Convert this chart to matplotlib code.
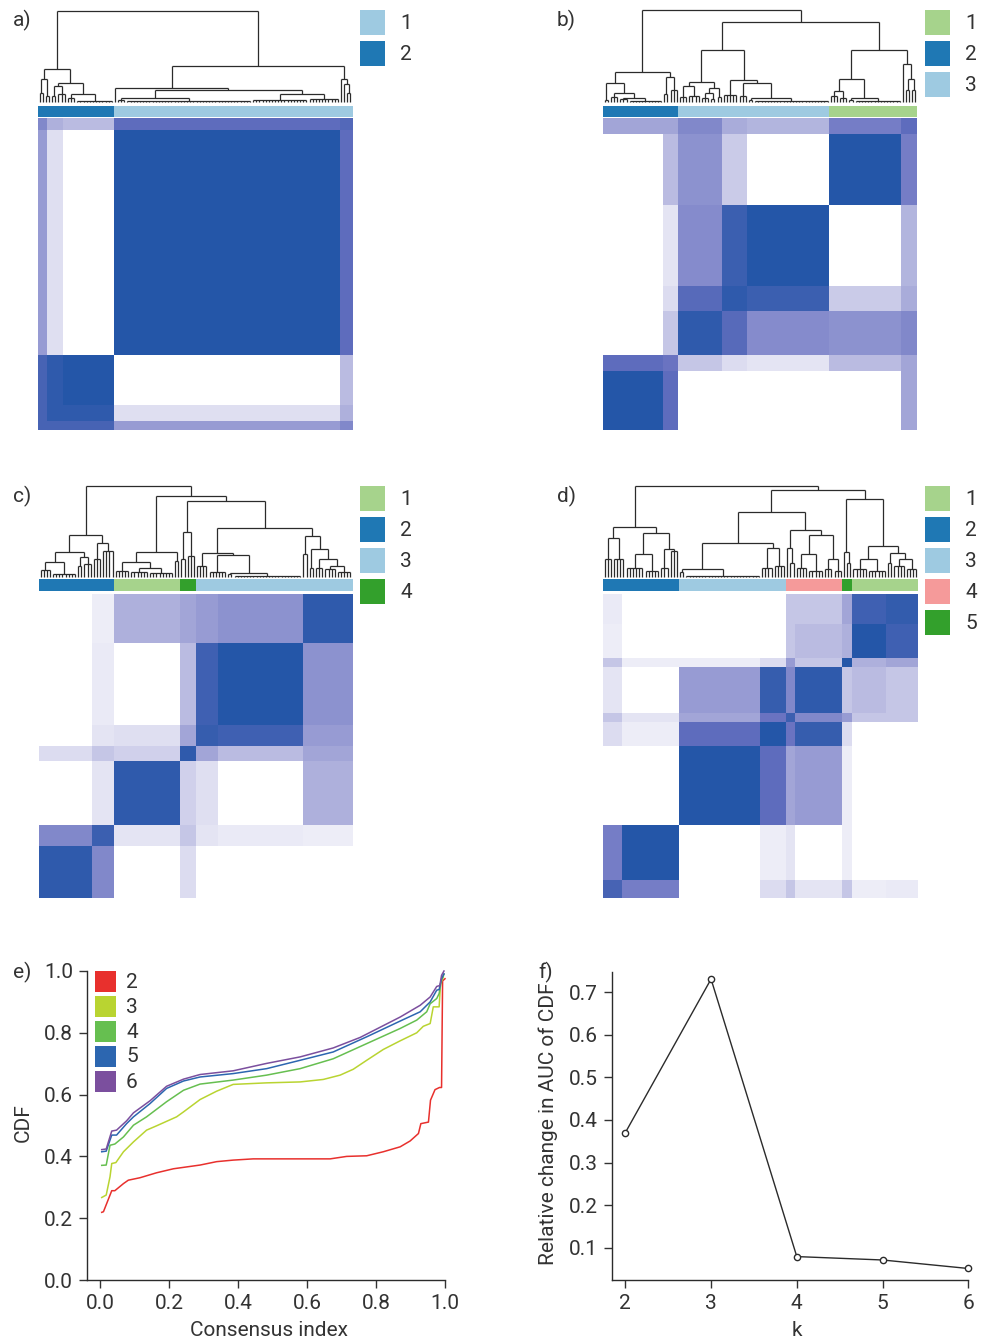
import numpy as np
import matplotlib
matplotlib.use("Agg")
import matplotlib.pyplot as plt
from matplotlib.colors import LinearSegmentedColormap, ListedColormap
from matplotlib.patches import Rectangle

plt.rcParams["font.family"] = ["Roboto", "DejaVu Sans"]
TXT = "#333333"
LINE = "#2b2b2b"

W, H = 988, 1341
N_SAMPLES = 100

# ---------------------------------------------------------------- colours
CLUSTER_COLORS = {
    "lightblue": "#9ecae1",
    "darkblue": "#1f78b4",
    "lightgreen": "#a6d38c",
    "green": "#33a02c",
    "pink": "#f59a9a",
}

# ---------------------------------------------------------------- panel a (k=2)
a_legend = ["1", "2"]
a_legend_colors = ["lightblue", "darkblue"]
a_bar_sizes = [24, 76]
a_bar_colors = ["darkblue", "lightblue"]
a_seg_sizes = [3, 5, 16, 72, 4]
a_levels = [
    [0.85, 0.85, 0.85, 0.50, 0.60],
    [0.00, 0.95, 0.95, 0.18, 0.40],
    [0.00, 0.00, 1.00, 0.00, 0.35],
    [0.00, 0.00, 0.00, 1.00, 0.75],
    [0.00, 0.00, 0.00, 0.00, 0.80],
]
a_tree = [1.0,
          [0.355, [0.25, (2, 0.10), (2, 0.06)],
                  [0.21, [0.17, (2, 0.06), (3, 0.08)], [0.09, (3, 0.04), (12, 0.01)]]],
          [0.39, [0.147, (1, 0.0), [0.128, [0.04, (3, 0.02), (40, 0.01)],
                                           [0.085, (18, 0.02), (10, 0.03)]]],
                 [0.253, (1, 0.0), [0.20, (1, 0.0), [0.10, (1, 0.0), (1, 0.0)]]]]]

# ---------------------------------------------------------------- panel b (k=3)
b_legend = ["1", "2", "3"]
b_legend_colors = ["lightgreen", "darkblue", "lightblue"]
b_bar_sizes = [24, 48, 28]
b_bar_colors = ["darkblue", "lightblue", "lightgreen"]
b_seg_sizes = [19, 5, 14, 8, 26, 23, 5]
b_levels = [
    [1.00, 0.75, 0.00, 0.00, 0.00, 0.00, 0.45],
    [0.00, 0.70, 0.30, 0.20, 0.15, 0.35, 0.45],
    [0.00, 0.00, 0.95, 0.78, 0.58, 0.55, 0.60],
    [0.00, 0.00, 0.00, 0.95, 0.90, 0.28, 0.42],
    [0.00, 0.00, 0.00, 0.00, 1.00, 0.00, 0.38],
    [0.00, 0.00, 0.00, 0.00, 0.00, 1.00, 0.65],
    [0.00, 0.00, 0.00, 0.00, 0.00, 0.00, 0.75],
]
b_tree = [1.0,
          [0.32, [0.207, (2, 0.02), [0.09, (3, 0.05), [0.04, (3, 0.03), (11, 0.006)]]],
                 [0.265, (2, 0.08), (3, 0.13)]],
          [0.873,
           [0.564, [0.22, [0.17, (3, 0.05), (4, 0.06)], [0.15, [0.10, (3, 0.04), (2, 0.03)], (2, 0.05)]],
                   [0.236, (5, 0.07), [0.20, (3, 0.06), [0.036, (2, 0.02), (24, 0.007)]]]],
           [0.564, [0.247, [0.12, (3, 0.06), (3, 0.04)], [0.035, (2, 0.02), (15, 0.006)]],
                   [0.41, (1, 0.0), [0.25, (2, 0.13), (2, 0.13)]]]]]

# ---------------------------------------------------------------- panel c (k=4)
c_legend = ["1", "2", "3", "4"]
c_legend_colors = ["lightgreen", "darkblue", "lightblue", "green"]
c_bar_sizes = [24, 21, 5, 50]
c_bar_colors = ["darkblue", "lightgreen", "green", "lightblue"]
c_seg_sizes = [17, 7, 21, 5, 7, 27, 16]
c_levels = [
    [0.95, 0.60, 0.00, 0.20, 0.00, 0.00, 0.00],
    [0.00, 0.90, 0.15, 0.30, 0.15, 0.12, 0.10],
    [0.00, 0.00, 0.95, 0.25, 0.18, 0.00, 0.40],
    [0.00, 0.00, 0.00, 0.95, 0.45, 0.35, 0.45],
    [0.00, 0.00, 0.00, 0.00, 0.92, 0.88, 0.50],
    [0.00, 0.00, 0.00, 0.00, 0.00, 1.00, 0.55],
    [0.00, 0.00, 0.00, 0.00, 0.00, 0.00, 0.95],
]
c_tree = [1.0,
          [0.458, [0.267, [0.165, (4, 0.07), (8, 0.03)], [0.22, (2, 0.12), (3, 0.14)]],
                  [0.374, (3, 0.20), (4, 0.285)]],
          [0.89,
           [0.267, [0.157, (5, 0.06), [0.10, (6, 0.05), (8, 0.04)]], (2, 0.176)],
           [0.835,
            [0.487, (2, 0.20), (3, 0.23)],
            [0.53, [0.256, (4, 0.12), [0.24, (6, 0.05), [0.04, (2, 0.03), (22, 0.01)]]],
                   [0.447, (2, 0.25), [0.30, (2, 0.10), [0.19, (3, 0.10), [0.12, (4, 0.08), (5, 0.05)]]]]]]]]

# ---------------------------------------------------------------- panel d (k=5)
d_legend = ["1", "2", "3", "4", "5"]
d_legend_colors = ["lightgreen", "darkblue", "lightblue", "pink", "green"]
d_bar_sizes = [24, 34, 18, 3, 21]
d_bar_colors = ["darkblue", "lightblue", "pink", "green", "lightgreen"]
d_seg_sizes = [6, 18, 26, 8, 3, 15, 3, 11, 10]
d_levels = [
    [0.85, 0.65, 0.00, 0.20, 0.30, 0.15, 0.30, 0.10, 0.12],
    [0.00, 1.00, 0.00, 0.10, 0.15, 0.00, 0.10, 0.00, 0.00],
    [0.00, 0.00, 1.00, 0.75, 0.45, 0.50, 0.10, 0.00, 0.00],
    [0.00, 0.00, 0.00, 1.00, 0.70, 0.92, 0.20, 0.00, 0.00],
    [0.00, 0.00, 0.00, 0.00, 0.90, 0.60, 0.50, 0.30, 0.30],
    [0.00, 0.00, 0.00, 0.00, 0.00, 0.95, 0.30, 0.35, 0.30],
    [0.00, 0.00, 0.00, 0.00, 0.00, 0.00, 1.00, 0.40, 0.45],
    [0.00, 0.00, 0.00, 0.00, 0.00, 0.00, 0.00, 1.00, 0.88],
    [0.00, 0.00, 0.00, 0.00, 0.00, 0.00, 0.00, 0.00, 0.93],
]
d_tree = [1.0,
          [0.542, [0.42, (3, 0.20), (4, 0.20)],
                  [0.476, [0.25, (6, 0.10), (5, 0.06)], [0.30, (3, 0.10), (3, 0.28)]]],
          [0.952,
           [0.707,
            [0.374, [0.09, (2, 0.05), (24, 0.01)], [0.31, (4, 0.10), (4, 0.12)]],
            [0.513, [0.31, (1, 0.0), (2, 0.15)],
                    [0.458, [0.25, (4, 0.10), (5, 0.06)], [0.20, (3, 0.08), (3, 0.06)]]]],
           [0.853,
            [0.275, (1, 0.0), (2, 0.15)],
            [0.34, [0.19, (5, 0.08), (6, 0.06)], [0.26, (2, 0.15), [0.20, (4, 0.12), (4, 0.08)]]]]]]

# ---------------------------------------------------------------- panel e: consensus CDF per k
cdf_k = ["2", "3", "4", "5", "6"]
cdf_colors = ["#e8302d", "#b9d431", "#66bf50", "#2c66b0", "#7b4f9e"]
cdf_x_2 = [0.005, 0.010, 0.034, 0.043, 0.068, 0.082, 0.116, 0.164, 0.213, 0.290, 0.338, 0.386,
           0.444, 0.667, 0.715, 0.773, 0.821, 0.870, 0.899, 0.923, 0.930, 0.952, 0.958, 0.971,
           0.984, 0.990, 0.993, 1.000]
cdf_y_2 = [0.219, 0.221, 0.289, 0.289, 0.312, 0.323, 0.331, 0.347, 0.360, 0.372, 0.383, 0.388,
           0.392, 0.392, 0.400, 0.402, 0.415, 0.431, 0.450, 0.474, 0.506, 0.511, 0.582, 0.616,
           0.623, 0.623, 0.968, 0.975]
cdf_x_3 = [0.005, 0.018, 0.029, 0.034, 0.046, 0.068, 0.097, 0.135, 0.164, 0.222, 0.242, 0.290,
           0.338, 0.386, 0.483, 0.580, 0.647, 0.696, 0.734, 0.773, 0.821, 0.870, 0.918, 0.937,
           0.957, 0.966, 0.983, 0.987, 0.995]
cdf_y_3 = [0.267, 0.275, 0.334, 0.377, 0.380, 0.415, 0.447, 0.485, 0.499, 0.528, 0.544, 0.584,
           0.611, 0.633, 0.638, 0.641, 0.649, 0.663, 0.682, 0.711, 0.746, 0.774, 0.800, 0.821,
           0.830, 0.884, 0.884, 0.959, 0.980]
cdf_x_4 = [0.005, 0.018, 0.029, 0.043, 0.068, 0.097, 0.135, 0.193, 0.242, 0.290, 0.386, 0.483,
           0.580, 0.676, 0.773, 0.870, 0.918, 0.947, 0.957, 0.976, 0.983, 0.990, 0.997]
cdf_y_4 = [0.371, 0.372, 0.436, 0.440, 0.463, 0.501, 0.528, 0.577, 0.614, 0.634, 0.647, 0.663,
           0.684, 0.716, 0.765, 0.814, 0.841, 0.868, 0.894, 0.911, 0.927, 0.972, 0.989]
cdf_x_5 = [0.005, 0.018, 0.034, 0.048, 0.077, 0.097, 0.145, 0.193, 0.242, 0.290, 0.386, 0.483,
           0.580, 0.676, 0.773, 0.870, 0.928, 0.957, 0.976, 0.983, 0.990, 0.997]
cdf_y_5 = [0.415, 0.417, 0.469, 0.469, 0.506, 0.528, 0.571, 0.620, 0.644, 0.657, 0.668, 0.684,
           0.711, 0.738, 0.787, 0.838, 0.868, 0.900, 0.938, 0.940, 0.975, 0.991]
cdf_x_6 = [0.005, 0.018, 0.034, 0.048, 0.077, 0.097, 0.145, 0.193, 0.242, 0.290, 0.386, 0.483,
           0.580, 0.676, 0.754, 0.870, 0.928, 0.957, 0.976, 0.985, 0.990, 0.997]
cdf_y_6 = [0.422, 0.424, 0.482, 0.485, 0.515, 0.541, 0.580, 0.627, 0.650, 0.665, 0.677, 0.701,
           0.722, 0.751, 0.785, 0.851, 0.889, 0.916, 0.950, 0.953, 0.986, 1.000]

# ---------------------------------------------------------------- panel f: delta area
delta_k = [2, 3, 4, 5, 6]
delta_auc = [0.370, 0.731, 0.079, 0.071, 0.051]


# ================================================================ helpers
def box(x0, y0, x1, y1):
    """Pixel rectangle (top-left origin) to figure fraction [l, b, w, h]."""
    return [x0 / W, 1 - y1 / H, (x1 - x0) / W, (y1 - y0) / H]


heat_cmap = LinearSegmentedColormap.from_list(
    "consensus",
    [(0.0, "#ffffff"), (0.2, "#dcdcf0"), (0.45, "#a3a6d8"), (0.72, "#6670c0"), (1.0, "#2456a8")])


def consensus_matrix(seg_sizes, levels):
    lv = np.array(levels, dtype=float)
    lv = np.triu(lv) + np.triu(lv, 1).T
    lab = np.repeat(np.arange(len(seg_sizes)), seg_sizes)
    return lv[lab[:, None], lab[None, :]]


def draw_tree(ax, node, start):
    kw = dict(color=LINE, lw=0.9, clip_on=False)
    if isinstance(node, tuple):
        n, h = node
        xs = start + 0.5 + np.arange(n)
        if n > 1:
            ax.vlines(xs, 0, h, **kw)
            ax.hlines(h, xs[0], xs[-1], **kw)
            return xs.mean(), h, start + n
        return xs[0], 0.0, start + 1
    h, left, right = node
    xl, hl, nxt = draw_tree(ax, left, start)
    xr, hr, nxt = draw_tree(ax, right, nxt)
    ax.vlines([xl, xr], [hl, hr], h, **kw)
    ax.hlines(h, xl, xr, **kw)
    return (xl + xr) / 2, h, nxt


fig = plt.figure(figsize=(W / 100, H / 100), dpi=100)

panels = [
    dict(tree=a_tree, seg=a_seg_sizes, lev=a_levels, bar_sizes=a_bar_sizes, bar_colors=a_bar_colors,
         legend=a_legend, legend_colors=a_legend_colors,
         dendro=(38, 10.7, 352, 101.7), bar=(38, 106, 352, 117), heat=(38, 118, 352, 430),
         leg_xy=(360, 10), label=("a)", 13, 20)),
    dict(tree=b_tree, seg=b_seg_sizes, lev=b_levels, bar_sizes=b_bar_sizes, bar_colors=b_bar_colors,
         legend=b_legend, legend_colors=b_legend_colors,
         dendro=(603, 10, 917, 101.7), bar=(603, 106, 917, 117), heat=(603, 118, 917, 430),
         leg_xy=(925, 10), label=("b)", 557, 20)),
    dict(tree=c_tree, seg=c_seg_sizes, lev=c_levels, bar_sizes=c_bar_sizes, bar_colors=c_bar_colors,
         legend=c_legend, legend_colors=c_legend_colors,
         dendro=(39, 485.7, 352, 576.7), bar=(39, 579, 352, 591), heat=(39, 594, 352, 898),
         leg_xy=(360, 486), label=("c)", 13, 496)),
    dict(tree=d_tree, seg=d_seg_sizes, lev=d_levels, bar_sizes=d_bar_sizes, bar_colors=d_bar_colors,
         legend=d_legend, legend_colors=d_legend_colors,
         dendro=(603, 485.7, 918, 576.7), bar=(603, 579, 918, 591), heat=(603, 594, 918, 898),
         leg_xy=(925, 486), label=("d)", 557, 496)),
]

overlay = fig.add_axes([0, 0, 1, 1], zorder=5)
overlay.set_xlim(0, W)
overlay.set_ylim(H, 0)
overlay.axis("off")

for p in panels:
    # dendrogram
    axd = fig.add_axes(box(*p["dendro"]))
    axd.set_xlim(0, N_SAMPLES)
    axd.set_ylim(0, 1)
    axd.axis("off")
    draw_tree(axd, p["tree"], 0)

    # cluster membership bar
    axb = fig.add_axes(box(*p["bar"]))
    members = np.repeat(np.arange(len(p["bar_sizes"])), p["bar_sizes"])[None, :]
    axb.imshow(members, aspect="auto", interpolation="nearest",
               cmap=ListedColormap([CLUSTER_COLORS[c] for c in p["bar_colors"]]),
               extent=(0, N_SAMPLES, 0, 1), vmin=-0.5, vmax=len(p["bar_sizes"]) - 0.5)
    axb.axis("off")

    # consensus heatmap
    axh = fig.add_axes(box(*p["heat"]))
    axh.imshow(consensus_matrix(p["seg"], p["lev"]), origin="lower", aspect="auto",
               interpolation="nearest", cmap=heat_cmap, vmin=0, vmax=1,
               extent=(0, N_SAMPLES, 0, N_SAMPLES))
    axh.axis("off")

    # legend
    lx, ly = p["leg_xy"]
    for i, (lab, col) in enumerate(zip(p["legend"], p["legend_colors"])):
        y0 = ly + 31 * i
        overlay.add_patch(Rectangle((lx, y0), 25, 25, color=CLUSTER_COLORS[col], lw=0))
        overlay.text(lx + 40, y0 + 13, lab, ha="left", va="center", fontsize=15, color=TXT)

    t, tx, ty = p["label"]
    overlay.text(tx, ty, t, ha="left", va="center", fontsize=15, color=TXT)

# ---------------------------------------------------------------- panel e
x_left = -0.0377
axe = fig.add_axes(box(87, 1280 - 1.02 * 309, 87 + (1.02 - x_left) * 345, 1280))
axe.set_xlim(x_left, 1.02)
axe.set_ylim(0, 1.02)
cdf_xs = [cdf_x_2, cdf_x_3, cdf_x_4, cdf_x_5, cdf_x_6]
cdf_ys = [cdf_y_2, cdf_y_3, cdf_y_4, cdf_y_5, cdf_y_6]
for xs, ys, col in zip(cdf_xs, cdf_ys, cdf_colors):
    axe.plot(xs, ys, color=col, lw=1.1, clip_on=False)
for s in ("top", "right"):
    axe.spines[s].set_visible(False)
axe.spines["left"].set_bounds(0, 1)
axe.spines["bottom"].set_bounds(x_left, 1.0)
axe.set_xticks(np.arange(0, 1.01, 0.2))
axe.set_yticks(np.arange(0, 1.01, 0.2))
axe.set_xticklabels([f"{v:.1f}" for v in np.arange(0, 1.01, 0.2)])
axe.set_yticklabels([f"{v:.1f}" for v in np.arange(0, 1.01, 0.2)])
axe.set_xlabel("Consensus index", fontsize=15, color=TXT, labelpad=6)
axe.set_ylabel("CDF", fontsize=15, color=TXT, labelpad=8)
axe.tick_params(direction="out", length=6, width=1, colors=TXT, labelsize=15, pad=4)
for s in ("left", "bottom"):
    axe.spines[s].set_color(LINE)
    axe.spines[s].set_linewidth(1)

for i, (lab, col) in enumerate(zip(cdf_k, cdf_colors)):
    y0 = 971 + 25 * i
    overlay.add_patch(Rectangle((95, y0), 21, 21, color=col, lw=0))
    overlay.text(126, y0 + 11, lab, ha="left", va="center", fontsize=15, color=TXT)
overlay.text(13, 972, "e)", ha="left", va="center", fontsize=15, color=TXT)

# ---------------------------------------------------------------- panel f
kx0, kx1 = 1.84, 6.16
ky0, ky1 = 0.024, 0.757
axf = fig.add_axes(box(625.3 + (kx0 - 2) * 85.75, 1290.2 - ky1 * 425.6,
                       625.3 + (kx1 - 2) * 85.75, 1290.2 - ky0 * 425.6))
axf.set_xlim(kx0, kx1)
axf.set_ylim(ky0, ky1)
axf.plot(delta_k, delta_auc, color=LINE, lw=1, marker="o", ms=4.5, mfc="white",
         mec=LINE, mew=1, clip_on=False)
for s in ("top", "right"):
    axf.spines[s].set_visible(False)
axf.spines["left"].set_bounds(ky0, 0.748)
axf.spines["bottom"].set_bounds(kx0, 6)
axf.set_xticks(delta_k)
axf.set_yticks(np.arange(0.1, 0.71, 0.1))
axf.set_yticklabels([f"{v:.1f}" for v in np.arange(0.1, 0.71, 0.1)])
axf.tick_params(direction="out", length=6, width=1, colors=TXT, labelsize=15, pad=4)
for s in ("left", "bottom"):
    axf.spines[s].set_color(LINE)
    axf.spines[s].set_linewidth(1)
axf.set_xlabel("k", fontsize=15, color=TXT, labelpad=6)
axf.set_ylabel("Relative change in AUC of CDF", fontsize=15, color=TXT, labelpad=8)
overlay.text(538, 972, "f)", ha="left", va="center", fontsize=15, color=TXT)

fig.savefig("out.png", dpi=100)
